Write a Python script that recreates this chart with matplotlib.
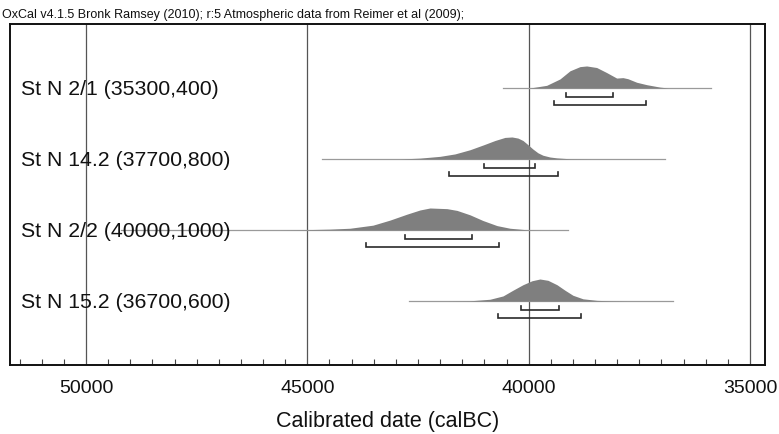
import matplotlib
matplotlib.use("Agg")
import matplotlib.pyplot as plt
from matplotlib.ticker import MultipleLocator, FixedLocator
import matplotlib.transforms as mtransforms

# ---------------- data ----------------
labels = ["St N 2/1 (35300,400)", "St N 14.2 (37700,800)",
          "St N 2/2 (40000,1000)", "St N 15.2 (36700,600)"]

# relative probability (peak = 100)
r1_years = [39970, 39593, 39293, 39067, 38841, 38690, 38464, 38238, 38012, 37870, 37757, 37560, 37334, 37034, 36853]
r1_prob = [0, 12, 41, 78, 97, 100, 93, 70, 45, 47, 42, 26, 15, 4, 0]

r2_years = [42907, 42455, 42003, 41665, 41326, 41010, 40761, 40535, 40377, 40242, 40129, 40016, 39903, 39790, 39677, 39519, 39361, 39067, 38615]
r2_prob = [0, 4, 12, 23, 42, 65, 84, 98, 100, 95, 84, 65, 45, 28, 17, 9, 5, 1, 0]

r3_years = [45600, 45166, 44488, 44037, 43517, 43133, 42749, 42455, 42229, 41845, 41619, 41326, 41032, 40716, 40422, 40038, 39745]
r3_prob = [0, 1, 4, 8, 22, 45, 72, 91, 100, 97, 89, 69, 43, 20, 8, 1, 0]

r4_years = [41800, 41326, 40874, 40580, 40355, 40129, 39925, 39745, 39564, 39361, 39180, 38999, 38773, 38457, 38163, 37800]
r4_prob = [0, 1, 8, 23, 49, 74, 92, 100, 94, 74, 49, 26, 10, 3, 1, 0]

# extent of the thin baseline for each date
line_start = [40580, 44669, 49200, 42704]
line_end = [35882, 36921, 39112, 36740]

# 68.2% and 95.4% ranges
range68 = [(39157, 38096), (41010, 39858), (42794, 41281), (40174, 39315)]
range95 = [(39429, 37350), (41800, 39338), (43675, 40671), (40693, 38818)]

major_ticks = [50000, 45000, 40000, 35000]
tick_labels = ["50000", "45000", "40000", "35000"]
xlim = (51717, 34661)
title = "OxCal v4.1.5 Bronk Ramsey (2010); r:5 Atmospheric data from Reimer et al (2009);"
xlabel = "Calibrated date (calBC)"

# ---------------- style ----------------
FONT = ["Liberation Sans", "DejaVu Sans"]
PEAK = 0.31          # height of a distribution peak, in row units
OFF68, OFF95 = 0.127, 0.24
CAP = 0.055

plt.rcParams["font.family"] = FONT

fig = plt.figure(figsize=(7.79, 4.35), dpi=100)
ax = fig.add_axes([10 / 779, 69 / 435, 755 / 779, 341 / 435])
ax.set_xlim(*xlim)
ax.set_ylim(3.901, -0.901)

years_all = [r1_years, r2_years, r3_years, r4_years]
prob_all = [r1_prob, r2_prob, r3_prob, r4_prob]

for xv in major_ticks:
    ax.axvline(xv, color="#555555", lw=0.9, zorder=1)

for i in range(4):
    ax.plot([line_start[i], line_end[i]], [i, i], color="#9a9a9a", lw=0.9, zorder=2)
    yrs = years_all[i]
    top = [i - p / 100 * PEAK for p in prob_all[i]]
    ax.fill_between(yrs, top, [i] * len(yrs), color="#7f7f7f", lw=0, zorder=3)
    for (a, b), off in ((range68[i], OFF68), (range95[i], OFF95)):
        y = i + off
        ax.plot([a, a, b, b], [y - CAP, y, y, y - CAP], color="#2a2a2a", lw=1.2,
                zorder=4, solid_joinstyle="miter")
    ax.text(11 / 755, i + 0.01, labels[i],
            transform=mtransforms.blended_transform_factory(ax.transAxes, ax.transData),
            ha="left", va="center", fontsize=15.3, color="#111111", zorder=5)

ax.xaxis.set_major_locator(FixedLocator(major_ticks))
ax.set_xticklabels(tick_labels)
ax.xaxis.set_minor_locator(MultipleLocator(500))
ax.tick_params(axis="x", which="major", length=0, pad=10, labelsize=14, labelcolor="#111111")
ax.tick_params(axis="x", which="minor", direction="in", length=4.5, width=0.8, color="#444444")
ax.set_yticks([])
ax.set_xlabel(xlabel, fontsize=15.5, labelpad=10, color="#111111")
for s in ax.spines.values():
    s.set_linewidth(1.4)
    s.set_color("#111111")

fig.text(2 / 779, 1 - 15 / 435, title, ha="left", va="center", fontsize=9, color="#111111")

fig.savefig("out.png", dpi=100, facecolor="white")
